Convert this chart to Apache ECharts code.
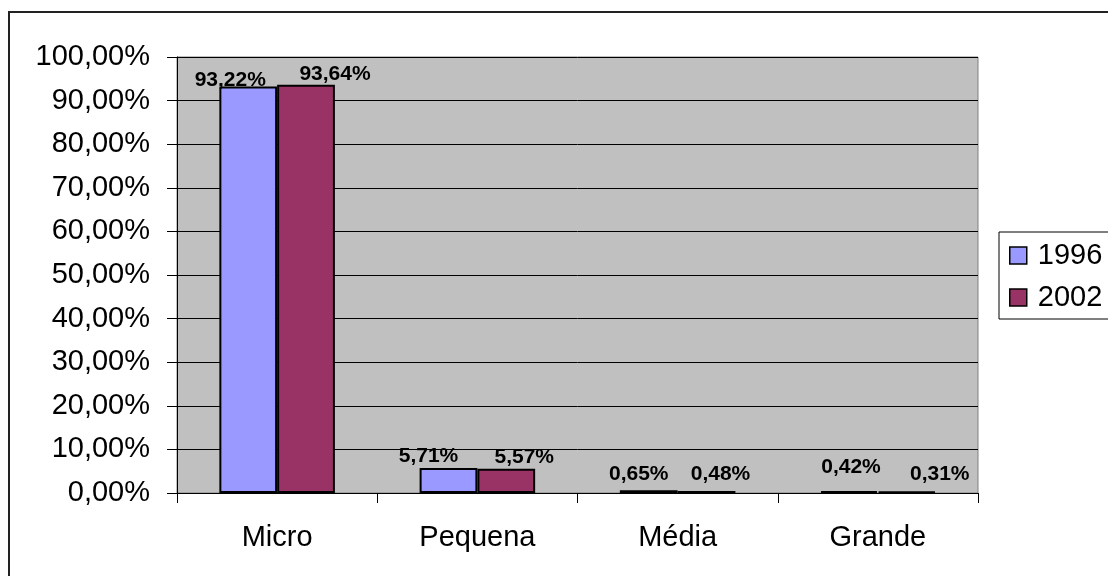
<!DOCTYPE html>
<html>
<head>
<meta charset="utf-8">
<title>Empresas por porte</title>
<script src="https://cdn.jsdelivr.net/npm/echarts@6/dist/echarts.min.js"></script>
<style>
  html, body { margin: 0; padding: 0; background: #fff; }
  #chart { width: 1108px; height: 576px; }
</style>
</head>
<body>
<div id="chart"></div>
<script>
// Share of companies by size class (%)
const categories = ['Micro', 'Pequena', 'Média', 'Grande'];
const seriesNames = ['1996', '2002'];
const values1996 = [93.22, 5.71, 0.65, 0.42];
const values2002 = [93.64, 5.57, 0.48, 0.31];

// Label nudges so neighbouring value labels don't collide
const nudge1996 = [[-18, 5], [-20, 0], [-10, -4], [2, -12]];
const nudge2002 = [[29, 1], [18, 0], [14, -5], [33, -6]];

const FONT = "'Liberation Sans', Arial, sans-serif";
const fmtPct = v => v.toFixed(2).replace('.', ',') + '%';

function buildData(values, nudges) {
  return values.map((v, i) => ({
    value: v,
    label: { offset: nudges[i] }
  }));
}

function barSeries(name, values, nudges, color) {
  return {
    name: name,
    type: 'bar',
    data: buildData(values, nudges),
    barGap: '0%',
    barCategoryGap: '42.3%',
    itemStyle: { color: color, borderColor: '#000', borderWidth: 2 },
    label: {
      show: true,
      position: 'top',
      distance: 1,
      formatter: p => fmtPct(p.value),
      fontFamily: FONT,
      fontSize: 21,
      fontWeight: 'bold',
      color: '#000'
    },
    emphasis: { disabled: true }
  };
}

const chart = echarts.init(document.getElementById('chart'), null, { renderer: 'canvas' });

chart.setOption({
  animation: false,
  backgroundColor: '#fff',
  graphic: [{
    type: 'rect',
    shape: { x: 9, y: 12, width: 1300, height: 800 },
    style: { fill: 'none', stroke: '#222', lineWidth: 2 },
    silent: true,
    z: -1
  }],
  grid: {
    left: 177, top: 57, width: 801, height: 436,
    show: true,
    backgroundColor: '#C0C0C0',
    borderColor: '#808080',
    borderWidth: 1
  },
  legend: {
    orient: 'vertical',
    left: 999, top: 232,
    padding: [9, 40, 7, 10],
    itemWidth: 17, itemHeight: 17,
    itemGap: 13,
    icon: 'rect',
    borderColor: '#000', borderWidth: 1,
    backgroundColor: '#fff',
    itemStyle: { borderColor: '#000', borderWidth: 1.5 },
    textStyle: { fontFamily: FONT, fontSize: 29, color: '#000', padding: [0, 0, 0, 6] },
    data: seriesNames
  },
  xAxis: {
    type: 'category',
    data: categories,
    axisLine: { lineStyle: { color: '#000', width: 1 } },
    axisTick: { show: true, length: 10, alignWithLabel: false, lineStyle: { color: '#000' } },
    axisLabel: { margin: 30, fontFamily: FONT, fontSize: 29, color: '#000' },
    splitLine: { show: false }
  },
  yAxis: {
    type: 'value',
    min: 0, max: 100, interval: 10,
    axisLine: { show: true, lineStyle: { color: '#000', width: 1 } },
    axisTick: { show: true, length: 10, lineStyle: { color: '#000' } },
    axisLabel: { margin: 27, fontFamily: FONT, fontSize: 29, color: '#000', formatter: v => fmtPct(v) },
    splitLine: { show: true, lineStyle: { color: '#000', width: 1 } }
  },
  series: [
    barSeries(seriesNames[0], values1996, nudge1996, '#9999FF'),
    barSeries(seriesNames[1], values2002, nudge2002, '#993366')
  ]
});
</script>
</body>
</html>
